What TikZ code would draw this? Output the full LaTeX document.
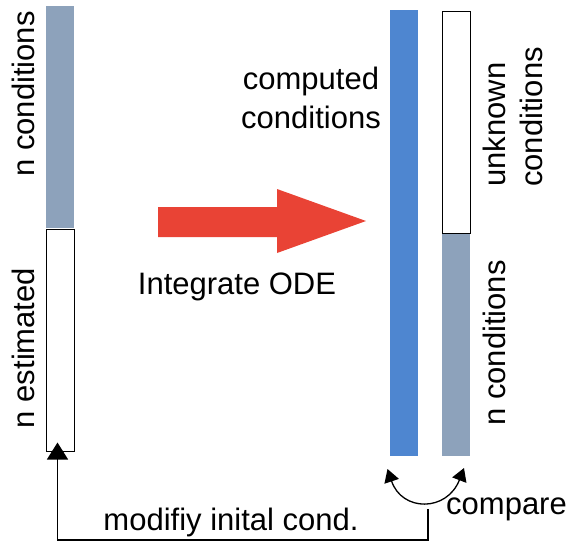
\documentclass[tikz,border=0pt]{standalone}
\usepackage{fontspec}
\setmainfont{Liberation Sans}
\usetikzlibrary{arrows.meta}
\definecolor{greyblue}{HTML}{8DA2BB}
\definecolor{barblue}{HTML}{4E86D0}
\definecolor{arrred}{HTML}{E94335}
\tikzset{
  bar/.style={rectangle, inner sep=0pt, outer sep=0pt, minimum width=28pt},
  openbar/.style={bar, draw=black, line width=1pt, fill=white},
  lbl/.style={inner sep=0pt, font=\fontsize{31}{36}\selectfont},
  conn/.style={line width=1.3pt, black},
}
\begin{document}
\begin{tikzpicture}[x=1pt, y=-1pt]
\useasboundingbox (0,0) rectangle (569,544);
% left column
\node[bar, fill=greyblue, minimum height=222pt] (lgrey) at (60,117) {};
\node[openbar, minimum height=222pt] (est) at (60,340.5) {};
% right columns
\node[bar, fill=barblue, minimum height=446pt] (blue) at (404,233) {};
\node[openbar, minimum height=222pt] (unk) at (456,122.5) {};
\node[bar, fill=greyblue, minimum height=222pt] (rgrey) at (456,345) {};
% red arrow
\fill[arrred] (158,207) -- (277,207) -- (277,189) -- (366,221) -- (277,253) -- (277,237) -- (158,237) -- cycle;
% labels
\node[lbl, rotate=90, anchor=base] (t1) at (34,94) {n conditions};
\node[lbl, rotate=90, anchor=base] (t2) at (34,348) {n estimated};
\node[lbl, anchor=base] (t3) at (311,89) {computed};
\node[lbl, anchor=base] (t4) at (311,128) {conditions};
\node[lbl, rotate=90, anchor=base west] (t5) at (505,187) {unknown};
\node[lbl, rotate=90, anchor=base west] (t6) at (542,187) {conditions};
\node[lbl, rotate=90, anchor=base] (t7) at (505,343) {n conditions};
\node[lbl, anchor=base] (t8) at (237,294) {Integrate ODE};
\node[lbl, anchor=base] (t9) at (231,530) {modifiy inital cond.};
\node[lbl, anchor=base west] (t10) at (446,514) {compare};
% compare arrow
\coordinate (cl) at (387.5,469);
\coordinate (cr) at (464,468);
\draw[conn, {Triangle[width=15pt,length=13pt]}-{Triangle[width=15pt,length=13pt]}] (cl) .. controls (402,512) and (447,512) .. (cr);
% feedback arrow
\coordinate (fb) at (428,509);
\coordinate (corner) at (57.5,540);
\draw[conn, -{Triangle[width=21pt,length=17pt]}] (fb) |- (corner) -- ([shift={(-2.5pt,9pt)}]est.south);
\end{tikzpicture}
\end{document}
